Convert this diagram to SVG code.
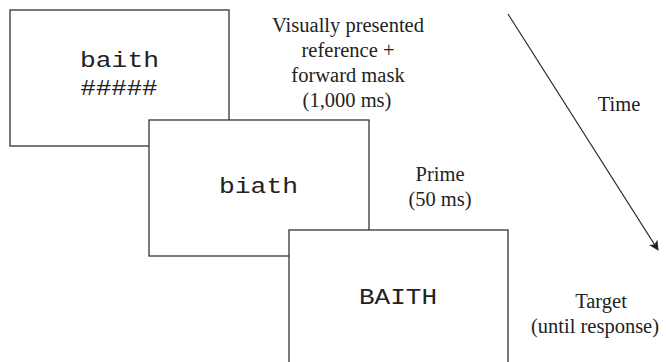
<svg xmlns="http://www.w3.org/2000/svg" width="666" height="362" viewBox="0 0 666 362">
<defs>
<style>
.box{fill:#fff;stroke:#333;stroke-width:1.3}
.mono{font-family:"Liberation Mono","Courier New",monospace;font-size:22px;fill:#222;text-anchor:middle}
.lab{font-family:"Liberation Serif","Times New Roman",serif;font-size:20.5px;fill:#222;text-anchor:middle}
.conn{stroke:#222;stroke-width:1.2;fill:none}
</style>
<marker id="ah" viewBox="0 0 10 10" refX="9" refY="5" markerWidth="10" markerHeight="10" markerUnits="userSpaceOnUse" orient="auto">
<path d="M0,0 L10,5 L0,10 L2.5,5 Z" fill="#222"/>
</marker>
</defs>
<rect width="666" height="362" fill="#fff"/>
<g id="frame1">
<rect class="box" x="10" y="10" width="219" height="136"/>
<text class="mono" x="119.5" y="67" textLength="79" lengthAdjust="spacingAndGlyphs">baith</text>
<text class="mono" x="119" y="95" textLength="77" lengthAdjust="spacingAndGlyphs">#####</text>
</g>
<g id="frame2">
<rect class="box" x="149" y="120" width="220" height="136"/>
<text class="mono" x="258.5" y="193" textLength="79" lengthAdjust="spacingAndGlyphs">biath</text>
</g>
<g id="frame3">
<rect class="box" x="289" y="230" width="219" height="140"/>
<text class="mono" x="398" y="304" textLength="78" lengthAdjust="spacingAndGlyphs">BAITH</text>
</g>
<g id="label-reference">
<text class="lab" x="348" y="32">Visually presented</text>
<text class="lab" x="348" y="57">reference +</text>
<text class="lab" x="348" y="82">forward mask</text>
<text class="lab" x="347" y="107">(1,000 ms)</text>
</g>
<g id="label-prime">
<text class="lab" x="440" y="181">Prime</text>
<text class="lab" x="440" y="206">(50 ms)</text>
</g>
<g id="label-target">
<text class="lab" x="601" y="308">Target</text>
<text class="lab" x="595" y="333">(until response)</text>
</g>
<g id="label-time">
<text class="lab" x="619" y="111">Time</text>
</g>
<g id="connectors">
<line class="conn" x1="508" y1="14" x2="658" y2="250" marker-end="url(#ah)"/>
</g>
</svg>
